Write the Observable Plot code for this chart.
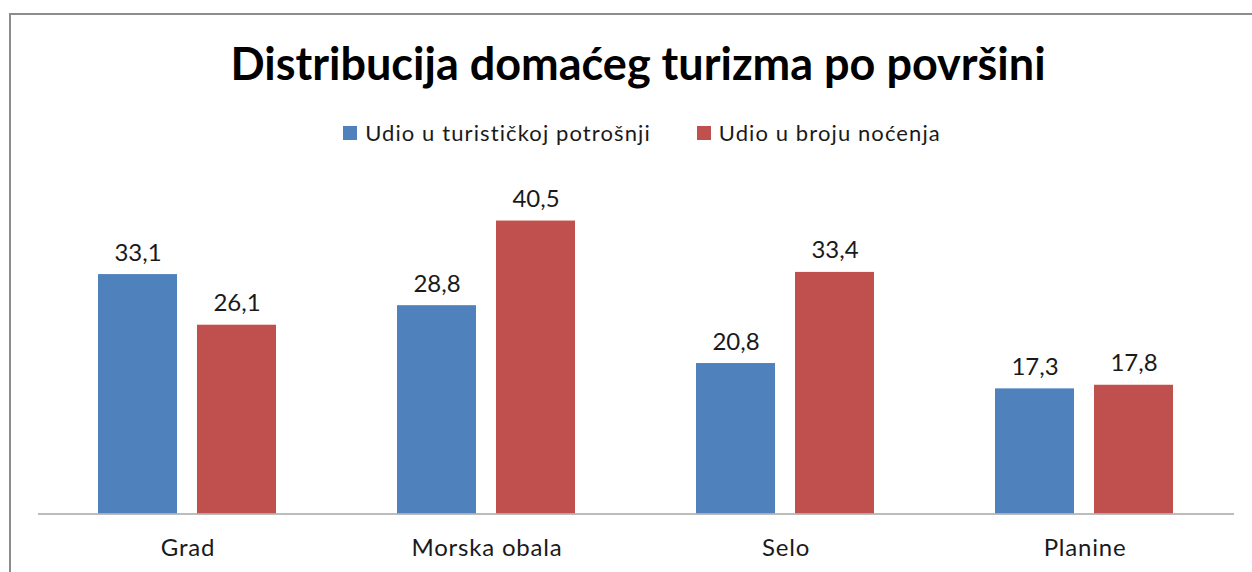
<!DOCTYPE html>
<html>
<head>
<meta charset="utf-8">
<script src="https://cdn.jsdelivr.net/npm/d3@7"></script>
<script src="https://cdn.jsdelivr.net/npm/@observablehq/plot@0.6"></script>
<style>
  html, body { margin: 0; padding: 0; background: #fff; }
  body { width: 1252px; height: 572px; overflow: hidden; position: relative; font-family: Lato, "Open Sans", sans-serif; }
  #frame { position: absolute; left: 9px; top: 13px; width: 1400px; height: 700px; border: 2px solid #8c8c8c; box-sizing: border-box; pointer-events: none; }
  #title { height: 104px; box-sizing: border-box; padding-top: 37px; text-align: center; font-weight: bold; font-size: 45px; line-height: 52px; color: #000; padding-left: 24px; }
  #legend { height: 56px; display: flex; justify-content: center; align-items: flex-start; gap: 46px; font-size: 22px; letter-spacing: 1.1px; color: #1a1a1a; padding-left: 32px; box-sizing: border-box; padding-top: 15px; }
  #legend .item { display: flex; align-items: center; gap: 8px; }
  #legend .sw { width: 14px; height: 14px; display: inline-block; }
  svg { display: block; }
  .fxaxis text { letter-spacing: 0.8px; }
</style>
</head>
<body>
<div id="frame"></div>
<div id="title">Distribucija domaćeg turizma po površini</div>
<div id="legend"></div>
<div id="chart"></div>
<script>
const categories = ["Grad", "Morska obala", "Selo", "Planine"];
const seriesNames = ["Udio u turističkoj potrošnji", "Udio u broju noćenja"];
const spending = [33.1, 28.8, 20.8, 17.3];
const nights = [26.1, 40.5, 33.4, 17.8];
const colors = ["#4F81BD", "#C0504D"];

const rows = [];
categories.forEach((c, i) => {
  rows.push({category: c, series: seriesNames[0], value: spending[i]});
  rows.push({category: c, series: seriesNames[1], value: nights[i]});
});

const legend = document.getElementById("legend");
seriesNames.forEach((s, i) => {
  const it = document.createElement("span");
  it.className = "item";
  const sw = document.createElement("span");
  sw.className = "sw";
  sw.style.background = colors[i];
  const t = document.createElement("span");
  t.textContent = s;
  it.appendChild(sw); it.appendChild(t);
  legend.appendChild(it);
});

const fmt = v => v.toFixed(1).replace(".", ",");

const chart = Plot.plot({
  width: 1252,
  height: 412,
  marginTop: 28,
  marginBottom: 58.5,
  marginLeft: 37,
  marginRight: 17,
  style: {fontFamily: "Lato, 'Open Sans', sans-serif", background: "transparent"},
  fx: {domain: categories, padding: 0, label: null, axis: null},
  x: {domain: seriesNames, paddingInner: 0.2, paddingOuter: 0.61, axis: null},
  y: {domain: [0, 45], axis: null},
  color: {domain: seriesNames, range: colors},
  marks: [
    Plot.barY(rows, {fx: "category", x: "series", y: "value", fill: "series"}),
    Plot.text(rows, {fx: "category", x: "series", y: "value", text: d => fmt(d.value), lineAnchor: "bottom", dy: -14, fontSize: 24, fill: "#1a1a1a"}),
    Plot.ruleY([0], {stroke: "#a6a6a6", strokeWidth: 1.5}),
    Plot.axisFx({anchor: "bottom", tickSize: 0, tickPadding: 25, fontSize: 24, fill: "#1a1a1a", label: null, className: "fxaxis"})
  ]
});
document.getElementById("chart").appendChild(chart);
</script>
</body>
</html>
